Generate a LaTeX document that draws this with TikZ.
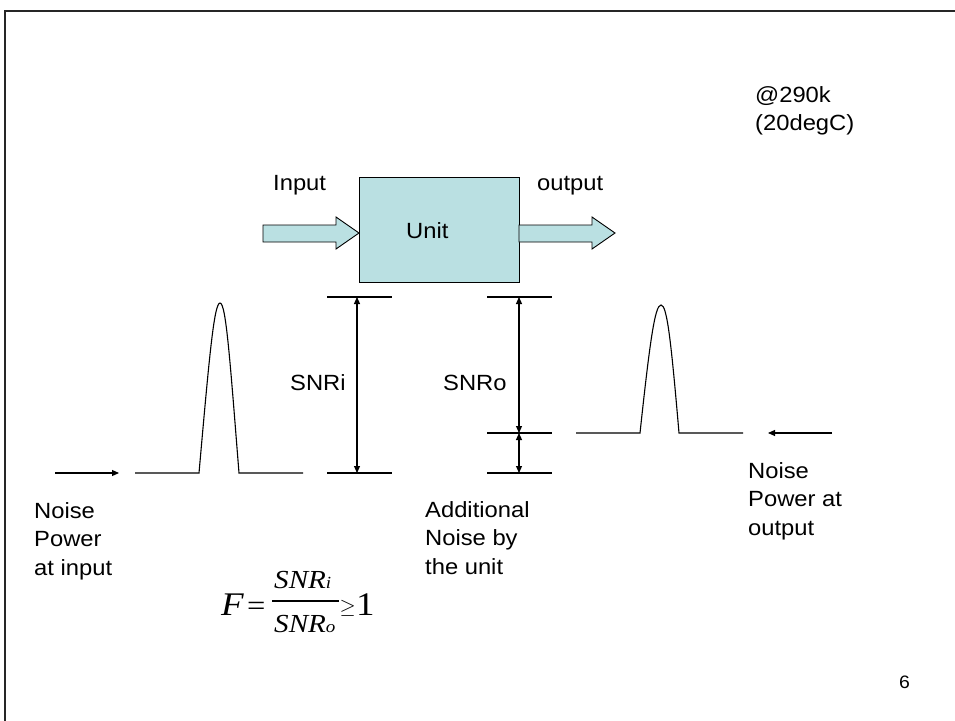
\documentclass[tikz,border=0pt]{standalone}
\usepackage{fontspec}
\setmainfont[FakeStretch=1.08]{Liberation Sans}
\newfontfamily\tnr[FakeStretch=1.12]{Liberation Serif}
\usetikzlibrary{arrows.meta}
\definecolor{unitfill}{HTML}{BAE0E2}
\tikzset{
  lbl/.style={font=\fontsize{22}{28}\selectfont, inner sep=0pt, anchor=base west},
  mlbl/.style={font=\fontsize{22}{28.5}\selectfont, inner sep=0pt, anchor=north west, align=left},
  unitbox/.style={draw=black, line width=1pt, fill=unitfill, minimum width=160pt, minimum height=105pt, inner sep=0pt},
  blockarrow/.style={draw=black, line width=0.9pt, fill=unitfill},
  wave/.style={line width=1.1pt},
  tick/.style={line width=1.1pt},
  dim/.style={line width=1.1pt, {Triangle[length=7pt,width=6pt]}-{Triangle[length=7pt,width=6pt]}},
  noisearrow/.style={line width=1.1pt, -{Triangle[length=7pt,width=6pt]}},
  eq/.style={inner sep=0pt, anchor=base west},
}
\begin{document}
\begin{tikzpicture}[x=1pt,y=-1pt]
\useasboundingbox (0,0) rectangle (955,720);
\clip (0,0) rectangle (955,720);
% slide frame
\draw[line width=2pt, draw=black!85] (5,11) rectangle (975,740);

% unit and block arrows
\node[unitbox] (unit) at (439,229.5) {};
\node[lbl] (unittxt) at (406,238) {Unit};
\draw[blockarrow] (263,225) -- (336,225) -- (336,217) -- (359,233) -- (336,249) -- (336,242) -- (263,242) -- cycle;
\draw[blockarrow] (519,225) -- (592,225) -- (592,217) -- (615,233) -- (592,249) -- (592,242) -- (519,242) -- cycle;
\node[lbl] (input) at (273,190) {Input};
\node[lbl] (output) at (537,190) {output};

% temperature note
\node[mlbl] (temp) at (755,86) {@290k\\(20degC)};

% left waveform
\coordinate (nin1) at (55,473);
\coordinate (nin2) at (119,473);
\draw[noisearrow] (nin1) -- (nin2);
\draw[wave] (135,473) -- (199,473)
  .. controls (209,360) and (214,303) .. (220,303)
  .. controls (226,303) and (230,360) .. (239,473) -- (303,473);

% SNRi dimension
\coordinate (ia) at (357,297);
\coordinate (ib) at (357,473);
\draw[tick] (327,297) -- (392,297);
\draw[tick] (327,473) -- (392,473);
\draw[dim] (ia) -- (ib);
\node[lbl] (snri) at (290,390) {SNRi};

% SNRo dimension
\coordinate (oa) at (519,297);
\coordinate (ob) at (519,433);
\coordinate (oc) at (519,473);
\draw[tick] (487,297) -- (552,297);
\draw[tick] (487,433) -- (552,433);
\draw[tick] (487,473) -- (552,473);
\draw[dim] (oa) -- (ob);
\draw[dim] (ob) -- (oc);
\node[lbl] (snro) at (443,390) {SNRo};

% right waveform
\draw[wave] (576,433) -- (640,433)
  .. controls (650,340) and (655,305) .. (661,305)
  .. controls (667,305) and (671,340) .. (679,433) -- (743,433);
\coordinate (nout1) at (832,433);
\coordinate (nout2) at (768,433);
\draw[noisearrow] (nout1) -- (nout2);

% labels below
\node[mlbl] (npin) at (34,502) {Noise\\Power\\at input};
\node[mlbl] (addn) at (425,501) {Additional\\Noise by\\the unit};
\node[mlbl] (npout) at (748,462) {Noise\\Power at\\output};

% formula
\node[eq, font=\tnr\fontsize{33}{33}\selectfont\itshape] (eqF) at (221,615) {F};
\node[eq, font=\tnr\fontsize{29}{29}\selectfont] (eqeq) at (247,615) {=};
\node[eq, font=\tnr\fontsize{26}{26}\selectfont\itshape] (eqnum) at (274,588) {SNR{\fontsize{17}{17}\selectfont i}};
\draw[line width=1.2pt] (272,601) -- (339,601);
\node[eq, font=\tnr\fontsize{26}{26}\selectfont\itshape] (eqden) at (274,632) {SNR{\fontsize{17}{17}\selectfont o}};
\node[eq, font=\fontsize{21}{21}\selectfont] (eqge) at (339.5,613) {$\geq$};
\node[eq, font=\tnr\fontsize{33}{33}\selectfont] (eqone) at (356,615) {1};

% page number
\node[eq, font=\fontsize{18}{18}\selectfont] (pg) at (899,688) {6};
\end{tikzpicture}
\end{document}
